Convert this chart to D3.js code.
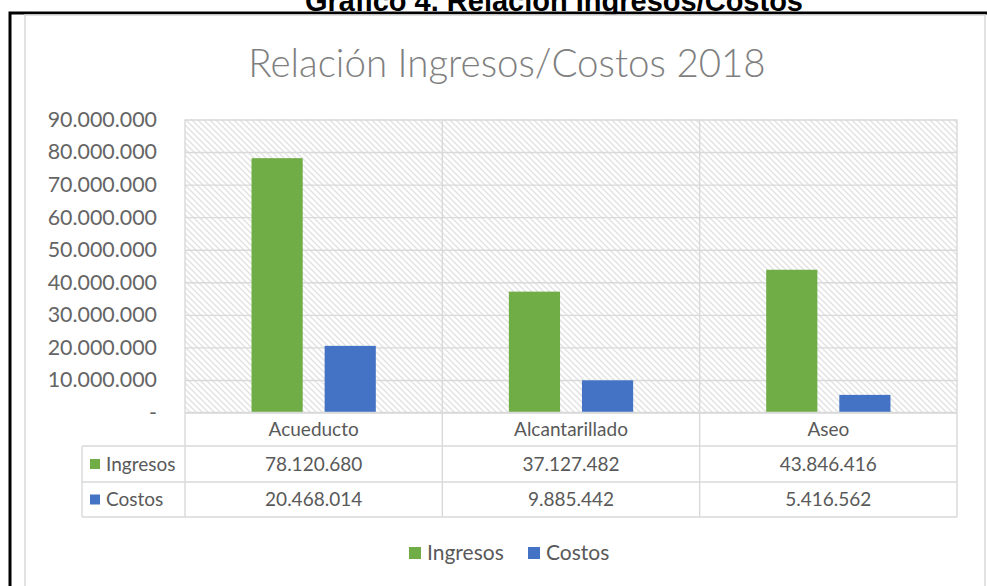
<!DOCTYPE html>
<html>
<head>
<meta charset="utf-8">
<script src="https://cdn.jsdelivr.net/npm/d3@7"></script>
<style>
  body { margin: 0; background: #fff; }
  svg { display: block; }
</style>
</head>
<body>
<div id="chart"></div>
<script>
const categories = ["Acueducto", "Alcantarillado", "Aseo"];
const seriesNames = ["Ingresos", "Costos"];
const ingresos = [78120680, 37127482, 43846416];
const costos = [20468014, 9885442, 5416562];
const yTicks = [0, 10000000, 20000000, 30000000, 40000000, 50000000, 60000000, 70000000, 80000000, 90000000];

const colors = { Ingresos: "#70ad47", Costos: "#4472c4" };
const values = { Ingresos: ingresos, Costos: costos };

const width = 987, height = 586;
const plot = { left: 185, right: 957, top: 119.5, bottom: 412.5 };
const rowH = [33.5, 36, 35];
const labelColLeft = 82;
const gridColor = "#d9d9d9";
const textColor = "#595959";

const locale = d3.formatLocale({ decimal: ",", thousands: ".", grouping: [3], currency: ["$", ""] });
const fmt = locale.format(",d");
const tickFmt = d => d === 0 ? "-" : fmt(d);

const svg = d3.select("#chart").append("svg")
  .attr("width", width)
  .attr("height", height);

const defs = svg.append("defs");
const hatch = defs.append("pattern")
  .attr("id", "hatch")
  .attr("patternUnits", "userSpaceOnUse")
  .attr("width", 6)
  .attr("height", 6);
hatch.append("rect").attr("width", 6).attr("height", 6).attr("fill", "#fff");
hatch.append("path")
  .attr("d", "M0,0L6,6M-3,3L3,9M3,-3L9,3")
  .attr("stroke", "#e2e2e2")
  .attr("stroke-width", 1.4);

// caption above the framed chart (cut off by the page edge, as in the source)
svg.append("text")
  .attr("x", 554)
  .attr("y", 11)
  .attr("text-anchor", "middle")
  .style("font-family", "'Liberation Sans', Arial, sans-serif")
  .style("font-weight", "bold")
  .style("font-size", "29px")
  .style("fill", "#000")
  .text("Gráfico 4. Relación Ingresos/Costos");

// black frame
svg.append("path")
  .attr("d", `M10,${height}V13H${width}`)
  .attr("fill", "none")
  .attr("stroke", "#000")
  .attr("stroke-width", 3);

// chart area border
svg.append("rect")
  .attr("x", 25).attr("y", 15)
  .attr("width", 960).attr("height", height)
  .attr("fill", "#fff")
  .attr("stroke", "#d9d9d9")
  .attr("stroke-width", 1.5);

svg.append("text")
  .attr("x", 507)
  .attr("y", 77)
  .attr("text-anchor", "middle")
  .style("font-family", "Lato, sans-serif")
  .style("font-weight", 300)
  .style("font-size", "38.5px")
  .style("fill", "#7f7f7f")
  .text("Relación Ingresos/Costos 2018");

const x0 = d3.scaleBand()
  .domain(categories)
  .range([plot.left, plot.right])
  .paddingInner(0)
  .paddingOuter(0);

const x1 = d3.scaleBand()
  .domain(seriesNames)
  .range([0, x0.bandwidth()])
  .paddingInner(0.3)
  .paddingOuter(0.91);

const y = d3.scaleLinear()
  .domain([0, 90000000])
  .range([plot.bottom, plot.top]);

svg.append("rect")
  .attr("x", plot.left).attr("y", plot.top)
  .attr("width", plot.right - plot.left)
  .attr("height", plot.bottom - plot.top)
  .attr("fill", "url(#hatch)");

const yAxis = svg.append("g")
  .attr("transform", `translate(${plot.left},0)`)
  .call(d3.axisLeft(y)
    .tickValues(yTicks)
    .tickFormat(tickFmt)
    .tickSizeInner(-(plot.right - plot.left))
    .tickSizeOuter(0)
    .tickPadding(28));
yAxis.select(".domain").remove();
yAxis.selectAll("line").attr("stroke", gridColor).attr("stroke-width", 1.4);
yAxis.selectAll("text")
  .style("font-family", "Lato, sans-serif")
  .style("font-size", "21.4px")
  .style("fill", "#656565");

const tableBottom = plot.bottom + d3.sum(rowH);

// vertical dividers through plot and table
svg.append("g").selectAll("line")
  .data(categories.concat(["__end"]))
  .enter().append("line")
  .attr("x1", (d, i) => i < categories.length ? x0(d) : plot.right)
  .attr("x2", (d, i) => i < categories.length ? x0(d) : plot.right)
  .attr("y1", plot.top)
  .attr("y2", tableBottom)
  .attr("stroke", gridColor)
  .attr("stroke-width", 1.4);

// bars
const groups = svg.append("g").selectAll("g")
  .data(categories)
  .enter().append("g")
  .attr("transform", d => `translate(${x0(d)},0)`);

groups.selectAll("rect")
  .data((c, ci) => seriesNames.map(s => ({ s, v: values[s][ci] })))
  .enter().append("rect")
  .attr("x", d => x1(d.s))
  .attr("width", x1.bandwidth())
  .attr("y", d => y(d.v))
  .attr("height", d => y(0) - y(d.v))
  .attr("fill", d => colors[d.s]);

// data table
const rowTop = [plot.bottom, plot.bottom + rowH[0], plot.bottom + rowH[0] + rowH[1], tableBottom];
const table = svg.append("g");

table.selectAll("line.h")
  .data(rowTop)
  .enter().append("line")
  .attr("x1", (d, i) => i === 0 ? plot.left : labelColLeft)
  .attr("x2", plot.right)
  .attr("y1", d => d)
  .attr("y2", d => d)
  .attr("stroke", gridColor)
  .attr("stroke-width", 1.4);

table.append("line")
  .attr("x1", labelColLeft).attr("x2", labelColLeft)
  .attr("y1", rowTop[1]).attr("y2", tableBottom)
  .attr("stroke", gridColor).attr("stroke-width", 1.4);

table.selectAll("text.cat")
  .data(categories)
  .enter().append("text")
  .attr("x", d => x0(d) + x0.bandwidth() / 2)
  .attr("y", (rowTop[0] + rowTop[1]) / 2)
  .attr("dy", "0.35em")
  .attr("text-anchor", "middle")
  .style("font-family", "Lato, sans-serif")
  .style("font-size", "19px")
  .style("fill", textColor)
  .text(d => d);

seriesNames.forEach((s, si) => {
  const cy = (rowTop[si + 1] + rowTop[si + 2]) / 2;
  table.append("rect")
    .attr("x", 90).attr("y", cy - 5)
    .attr("width", 10).attr("height", 10)
    .attr("fill", colors[s]);
  table.append("text")
    .attr("x", 106).attr("y", cy)
    .attr("dy", "0.35em")
    .style("font-family", "Lato, sans-serif")
    .style("font-size", "19px")
    .style("fill", textColor)
    .text(s);
  table.selectAll(null)
    .data(values[s])
    .enter().append("text")
    .attr("x", (d, i) => x0(categories[i]) + x0.bandwidth() / 2)
    .attr("y", cy)
    .attr("dy", "0.35em")
    .attr("text-anchor", "middle")
    .style("font-family", "Lato, sans-serif")
    .style("font-size", "19px")
    .style("fill", textColor)
    .text(d => fmt(d));
});

// legend
const legendX = [409, 528];
const legend = svg.append("g").selectAll("g")
  .data(seriesNames)
  .enter().append("g")
  .attr("transform", (d, i) => `translate(${legendX[i]},553)`);
legend.append("rect")
  .attr("y", -6).attr("width", 12).attr("height", 12)
  .attr("fill", d => colors[d]);
legend.append("text")
  .attr("x", 18)
  .attr("dy", "0.35em")
  .style("font-family", "Lato, sans-serif")
  .style("font-size", "21px")
  .style("fill", textColor)
  .text(d => d);
</script>
</body>
</html>
